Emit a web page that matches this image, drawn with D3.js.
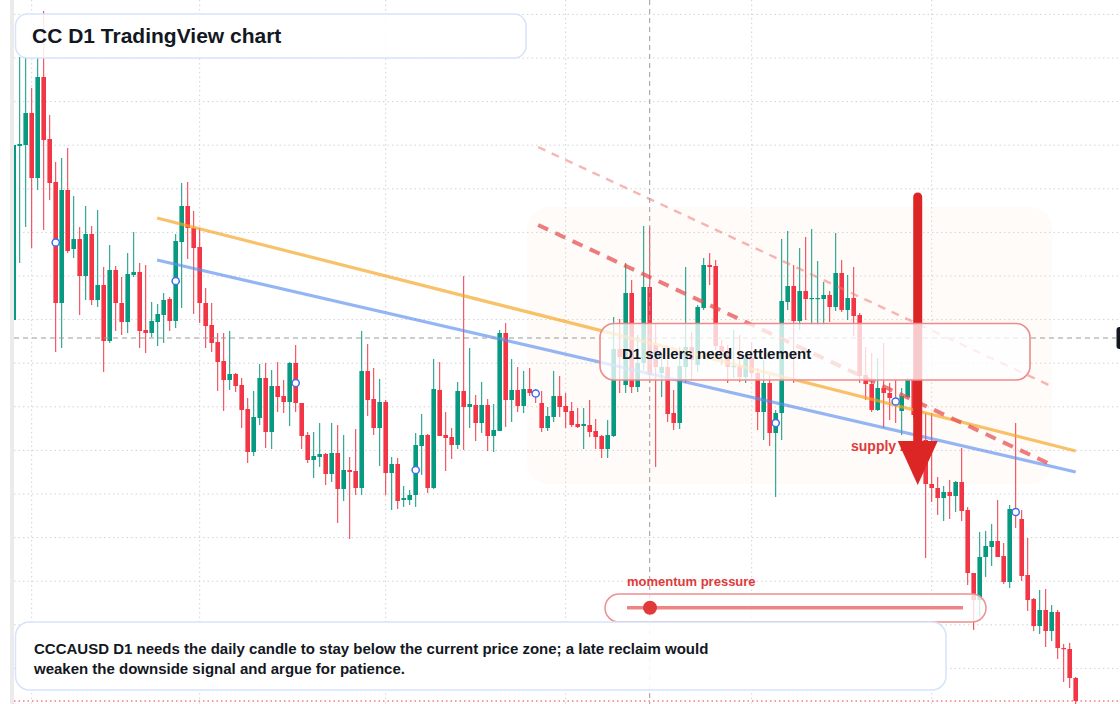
<!DOCTYPE html>
<html><head><meta charset="utf-8">
<script src="https://cdn.jsdelivr.net/npm/d3@7"></script>
<style>html,body{margin:0;padding:0;background:#fff;}svg{display:block;font-family:"Liberation Sans",Arial,Helvetica,sans-serif;}</style>
</head><body><svg id="c" width="1120" height="704"></svg>
<script>
// ---- data (CC daily candles) ----
const startDay = "2025-01-29";
const opens = [
0.420,0.594,0.595,0.627,0.562,0.663,0.601,0.558,0.437,0.550,
0.491,0.501,0.464,0.506,0.440,0.455,0.399,0.470,0.437,0.418,
0.465,0.468,0.410,0.407,0.418,0.425,0.441,0.419,0.498,0.534,
0.512,0.493,0.437,0.415,0.398,0.379,0.360,0.366,0.355,0.331,
0.288,0.322,0.362,0.308,0.354,0.344,0.338,0.377,0.337,0.305,
0.280,0.283,0.286,0.266,0.287,0.251,0.270,0.269,0.252,0.369,
0.341,0.312,0.338,0.267,0.276,0.240,0.240,0.245,0.294,0.305,
0.252,0.350,0.305,0.303,0.295,0.349,0.333,0.335,0.317,0.335,
0.304,0.309,0.407,0.340,0.350,0.334,0.351,0.348,0.337,0.312,
0.323,0.344,0.334,0.329,0.316,0.314,0.315,0.309,0.304,0.291,
0.304,0.391,0.355,0.447,0.353,0.377,0.453,0.395,0.367,0.373,
0.327,0.317,0.373,0.393,0.375,0.432,0.475,0.474,0.394,0.388,
0.373,0.374,0.363,0.382,0.367,0.328,0.357,0.307,0.327,0.438,
0.454,0.419,0.449,0.441,0.441,0.441,0.445,0.433,0.467,0.430,
0.442,0.425,0.365,0.356,0.330,0.352,0.347,0.341,0.329,0.343,
0.360,0.325,0.300,0.256,0.252,0.242,0.248,0.244,0.258,0.230,
0.167,0.140,0.183,0.193,0.199,0.184,0.158,0.231,0.221,0.165,
0.141,0.114,0.130,0.109,0.128,0.092,0.091,0.062];
const highs = [
0.595,0.683,0.683,0.652,0.682,0.729,0.625,0.578,0.582,0.592,
0.544,0.513,0.534,0.514,0.530,0.473,0.495,0.474,0.463,0.487,
0.508,0.477,0.475,0.438,0.436,0.447,0.443,0.506,0.557,0.558,
0.529,0.512,0.452,0.437,0.407,0.407,0.409,0.367,0.362,0.342,
0.349,0.376,0.377,0.370,0.378,0.360,0.378,0.395,0.337,0.308,
0.308,0.317,0.287,0.317,0.315,0.305,0.283,0.311,0.409,0.396,
0.372,0.361,0.340,0.283,0.282,0.254,0.250,0.307,0.326,0.306,
0.381,0.378,0.328,0.312,0.358,0.464,0.392,0.345,0.358,0.341,
0.336,0.410,0.417,0.381,0.373,0.369,0.372,0.351,0.349,0.333,
0.369,0.364,0.347,0.338,0.332,0.332,0.340,0.321,0.305,0.320,
0.423,0.421,0.477,0.460,0.405,0.514,0.513,0.417,0.387,0.380,
0.350,0.393,0.473,0.408,0.435,0.482,0.487,0.480,0.400,0.395,
0.410,0.405,0.388,0.398,0.372,0.380,0.365,0.330,0.501,0.509,
0.475,0.492,0.503,0.511,0.479,0.458,0.449,0.507,0.480,0.465,
0.473,0.427,0.393,0.387,0.382,0.397,0.357,0.361,0.352,0.362,
0.364,0.340,0.327,0.327,0.263,0.254,0.260,0.259,0.292,0.233,
0.167,0.208,0.209,0.216,0.240,0.197,0.235,0.317,0.230,0.202,
0.142,0.150,0.151,0.135,0.130,0.096,0.097,0.063];
const lows = [
0.420,0.477,0.513,0.492,0.550,0.510,0.540,0.388,0.392,0.487,
0.482,0.425,0.440,0.435,0.433,0.368,0.397,0.409,0.405,0.407,
0.463,0.392,0.387,0.403,0.394,0.397,0.409,0.412,0.432,0.481,
0.426,0.417,0.392,0.388,0.349,0.329,0.350,0.348,0.312,0.277,
0.284,0.315,0.292,0.291,0.328,0.327,0.314,0.328,0.291,0.277,
0.262,0.273,0.255,0.258,0.217,0.239,0.201,0.245,0.245,0.324,
0.305,0.274,0.245,0.230,0.231,0.233,0.235,0.233,0.265,0.247,
0.251,0.304,0.269,0.281,0.291,0.290,0.312,0.299,0.307,0.289,
0.288,0.309,0.313,0.318,0.328,0.327,0.344,0.337,0.308,0.309,
0.318,0.323,0.312,0.313,0.312,0.291,0.303,0.291,0.282,0.282,
0.303,0.347,0.347,0.347,0.348,0.370,0.357,0.273,0.343,0.318,
0.310,0.311,0.357,0.360,0.368,0.430,0.455,0.390,0.375,0.357,
0.362,0.358,0.357,0.362,0.310,0.300,0.294,0.243,0.300,0.430,
0.357,0.410,0.420,0.415,0.415,0.415,0.418,0.429,0.428,0.420,
0.404,0.357,0.340,0.328,0.329,0.312,0.320,0.317,0.305,0.342,
0.322,0.295,0.182,0.238,0.225,0.219,0.221,0.228,0.219,0.155,
0.110,0.123,0.163,0.174,0.183,0.156,0.152,0.212,0.159,0.129,
0.109,0.106,0.093,0.099,0.081,0.058,0.052,0.034];
const closes = [
0.595,0.596,0.627,0.562,0.663,0.600,0.557,0.437,0.550,0.489,
0.501,0.464,0.506,0.440,0.455,0.399,0.470,0.437,0.418,0.466,
0.468,0.409,0.407,0.419,0.426,0.440,0.419,0.499,0.534,0.512,
0.492,0.437,0.414,0.397,0.378,0.360,0.366,0.354,0.330,0.288,
0.323,0.362,0.308,0.354,0.343,0.338,0.377,0.337,0.304,0.280,
0.284,0.286,0.266,0.287,0.251,0.270,0.268,0.252,0.369,0.340,
0.312,0.338,0.267,0.276,0.239,0.242,0.245,0.295,0.305,0.252,
0.351,0.304,0.302,0.295,0.349,0.333,0.336,0.317,0.335,0.304,
0.310,0.407,0.340,0.350,0.334,0.351,0.347,0.345,0.312,0.324,
0.344,0.333,0.328,0.315,0.313,0.316,0.308,0.303,0.291,0.305,
0.391,0.383,0.447,0.353,0.377,0.453,0.365,0.373,0.373,0.326,
0.317,0.374,0.393,0.380,0.433,0.475,0.473,0.394,0.388,0.373,
0.374,0.363,0.382,0.367,0.328,0.357,0.307,0.327,0.439,0.454,
0.419,0.449,0.441,0.442,0.442,0.445,0.433,0.467,0.430,0.442,
0.424,0.364,0.356,0.330,0.352,0.347,0.342,0.336,0.344,0.360,
0.325,0.300,0.256,0.252,0.242,0.248,0.244,0.258,0.229,0.167,
0.140,0.183,0.194,0.199,0.183,0.158,0.231,0.225,0.164,0.140,
0.114,0.130,0.109,0.128,0.092,0.091,0.062,0.039];
const gridPrices = [0.7256,0.682,0.6384,0.5948,0.5512,0.5076,0.464,0.4204,0.3768,0.3332,0.2896,0.246,0.2024,0.1588,0.1152,0.0716];
const markerIdx = [7,27,47,67,87,107,127,147,167];
// trend lines: [startIndex, startPrice, endIndex, endPrice]
const orangeLine = [23.9, 0.522, 177, 0.289];
const blueLine   = [23.9, 0.480, 177, 0.268];
const pinkDashed = [87.4, 0.593, 173.05, 0.3535];
const redDashed  = [87.4, 0.515, 173.05, 0.275];
const zone = {i0: 85.5, i1: 173.1, top: 0.533, bottom: 0.256};
const arrow = {i: 150.67, from: 0.543, to: 0.255};
const crosshair = {i: 106, price: 0.402};
const titleText = "CC D1 TradingView chart";
const noteText = "D1 sellers need settlement";
const zoneText = "supply zone";
const gaugeText = "momentum pressure";
const bodyLines = ["CCCAUSD D1 needs the daily candle to stay below the current price zone; a late reclaim would",
                   "weaken the downside signal and argue for patience."];

// ---- drawing ----
const W = 1120, H = 704;
const UP = "#089981", DN = "#f23645";
const svg = d3.select("#c");
const t0 = new Date(startDay + "T00:00:00Z");
const dayAt = i => new Date(t0.getTime() + i * 86400000);
const n = opens.length;
const x = d3.scaleUtc().domain([dayAt(0), dayAt(n - 1)]).range([13.7, 1075.7]);
const y = d3.scaleLinear().domain([0.036, 0.740]).range([704, 0]);
const xi = i => x(dayAt(i));

svg.append("rect").attr("width", W).attr("height", H).attr("fill", "#fff");
svg.append("defs").append("clipPath").attr("id", "plot")
  .append("rect").attr("x", 14).attr("y", 0).attr("width", W - 14).attr("height", H);
svg.append("rect").attr("x", 10).attr("y", 0).attr("width", 4).attr("height", H).attr("fill", "#ebebeb");

const plot = svg.append("g").attr("clip-path", "url(#plot)");

// grid
plot.append("g").selectAll("line").data(gridPrices).join("line")
  .attr("x1", 14).attr("x2", W).attr("y1", d => y(d)).attr("y2", d => y(d))
  .attr("stroke", "#cfd2d6").attr("stroke-width", 1).attr("stroke-dasharray", "1.5,3");
const months = d3.utcMonth.range(dayAt(0), dayAt(n - 1));
plot.append("g").selectAll("line").data(months).join("line")
  .attr("x1", d => x(d)).attr("x2", d => x(d)).attr("y1", 0).attr("y2", H)
  .attr("stroke", "#cfd2d6").attr("stroke-width", 1).attr("stroke-dasharray", "1.5,3");

// supply zone background
plot.append("rect")
  .attr("x", xi(zone.i0)).attr("y", y(zone.top))
  .attr("width", xi(zone.i1) - xi(zone.i0)).attr("height", y(zone.bottom) - y(zone.top))
  .attr("rx", 22).attr("fill", "#f8e4d8").attr("opacity", 0.14);

// candles
const idx = d3.range(n);
const cg = plot.append("g");
cg.selectAll("line").data(idx).join("line")
  .attr("x1", i => xi(i)).attr("x2", i => xi(i))
  .attr("y1", i => y(highs[i])).attr("y2", i => y(lows[i]))
  .attr("stroke", i => closes[i] >= opens[i] ? UP : DN).attr("stroke-width", 1);
const bw = 4.6;
cg.selectAll("rect").data(idx).join("rect")
  .attr("x", i => xi(i) - bw / 2).attr("width", bw)
  .attr("y", i => y(Math.max(opens[i], closes[i])))
  .attr("height", i => Math.max(1.2, Math.abs(y(opens[i]) - y(closes[i]))))
  .attr("fill", i => closes[i] >= opens[i] ? UP : DN);

// trend lines
const seg = (g, L) => g.append("line")
  .attr("x1", xi(L[0])).attr("y1", y(L[1])).attr("x2", xi(L[2])).attr("y2", y(L[3]));
seg(plot, orangeLine).attr("stroke", "#f5a524").attr("stroke-opacity", 0.68).attr("stroke-width", 3.2);
seg(plot, blueLine).attr("stroke", "#5b8def").attr("stroke-opacity", 0.65).attr("stroke-width", 3.2);
seg(plot, pinkDashed).attr("stroke", "#ee7a7a").attr("stroke-opacity", 0.55).attr("stroke-width", 2.4).attr("stroke-dasharray", "8,7");
seg(plot, redDashed).attr("stroke", "#e64b4b").attr("stroke-opacity", 0.72).attr("stroke-width", 4).attr("stroke-dasharray", "11,8");

// markers
plot.append("g").selectAll("circle").data(markerIdx).join("circle")
  .attr("cx", i => xi(i)).attr("cy", i => y((opens[i] + closes[i]) / 2)).attr("r", 3.6)
  .attr("fill", "#fff").attr("stroke", "#3f6fee").attr("stroke-width", 1.5);

// last price line
plot.append("line").attr("x1", 14).attr("x2", W)
  .attr("y1", y(closes[n - 1])).attr("y2", y(closes[n - 1]))
  .attr("stroke", DN).attr("stroke-width", 1).attr("stroke-dasharray", "1.5,3");

// crosshair
plot.append("line").attr("x1", xi(crosshair.i)).attr("x2", xi(crosshair.i)).attr("y1", 0).attr("y2", H)
  .attr("stroke", "#9a9a9a").attr("stroke-width", 1).attr("stroke-dasharray", "5,4");
plot.append("line").attr("x1", 14).attr("x2", 1116).attr("y1", y(crosshair.price)).attr("y2", y(crosshair.price))
  .attr("stroke", "#9a9a9a").attr("stroke-width", 1).attr("stroke-dasharray", "5,4");
svg.append("rect").attr("x", 1116.5).attr("y", y(crosshair.price) - 11).attr("width", 12).attr("height", 22)
  .attr("rx", 3).attr("fill", "#131722");

// supply zone text + arrow
svg.append("text").attr("x", 851).attr("y", 451).attr("font-size", 14).attr("font-weight", 700)
  .attr("fill", "#e03a3a").text(zoneText);
const ax = xi(arrow.i);
svg.append("line").attr("x1", ax).attr("x2", ax).attr("y1", y(arrow.from)).attr("y2", 446)
  .attr("stroke", "#dc2626").attr("stroke-width", 9).attr("stroke-linecap", "round");
svg.append("path").attr("d", `M${ax - 20},441 L${ax + 20},441 L${ax},${y(arrow.to)} Z`).attr("fill", "#dc2626");

// note box
svg.append("rect").attr("x", 600).attr("y", 323.5).attr("width", 430).attr("height", 56.5).attr("rx", 14)
  .attr("fill", "#fff").attr("fill-opacity", 0.76).attr("stroke", "#ee8a8a").attr("stroke-width", 1.6);
svg.append("text").attr("x", 622).attr("y", 359).attr("font-size", 15).attr("font-weight", 700)
  .attr("fill", "#131722").text(noteText);

// gauge
svg.append("text").attr("x", 627).attr("y", 585.5).attr("font-size", 13).attr("font-weight", 700)
  .attr("fill", "#e03a3a").text(gaugeText);
svg.append("rect").attr("x", 605).attr("y", 594).attr("width", 381).attr("height", 28).attr("rx", 14)
  .attr("fill", "#fff").attr("fill-opacity", 0.78).attr("stroke", "#ee9090").attr("stroke-width", 1.5);
svg.append("line").attr("x1", 627).attr("x2", 963).attr("y1", 607.7).attr("y2", 607.7)
  .attr("stroke", "#ec7878").attr("stroke-width", 3.5).attr("stroke-opacity", 0.9);
svg.append("circle").attr("cx", 650).attr("cy", 607.7).attr("r", 7).attr("fill", "#e03a3a");

// title box
svg.append("rect").attr("x", 15.5).attr("y", 14).attr("width", 510.5).attr("height", 44).attr("rx", 12)
  .attr("fill", "#fff").attr("fill-opacity", 0.86).attr("stroke", "#d6e3fb").attr("stroke-width", 1.5);
svg.append("text").attr("x", 32).attr("y", 43.3).attr("font-size", 21).attr("font-weight", 700)
  .attr("fill", "#131722").text(titleText);

// bottom text box
svg.append("rect").attr("x", 15.5).attr("y", 622).attr("width", 930.5).attr("height", 68).attr("rx", 14)
  .attr("fill", "#fff").attr("fill-opacity", 0.9).attr("stroke", "#d6e3fb").attr("stroke-width", 1.5);
svg.append("g").selectAll("text").data(bodyLines).join("text")
  .attr("x", 34).attr("y", (d, k) => 653.5 + k * 20).attr("font-size", 15).attr("font-weight", 700)
  .attr("fill", "#131722").text(d => d);
</script></body></html>
